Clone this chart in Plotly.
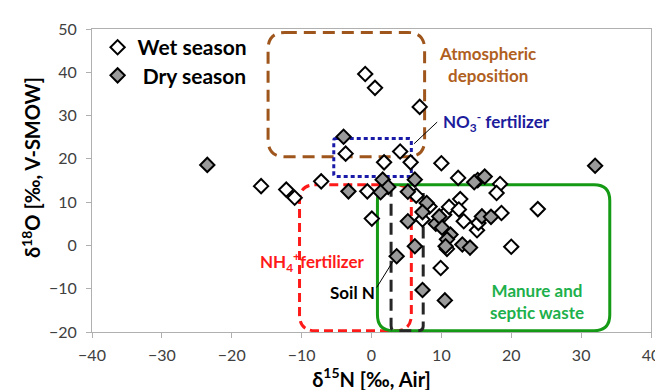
import plotly.graph_objects as go

# ---- data ----
wet_x = [-0.9, 0.5, 6.9, -3.7, 4.1, 5.6, 1.8, 10.0, 12.4, -7.2, -15.8, -12.2, -11.0, -0.6, 6.4,
         0.05, 7.3, 10.4, 11.1, 9.9, 8.3, 12.7, 12.5, 13.2, 15.1, 15.3, 15.2, 18.4, 17.9, 18.6,
         23.8, 20.0, 10.8]
wet_y = [39.6, 36.4, 32.0, 21.2, 21.7, 19.2, 19.2, 19.0, 15.6, 14.8, 13.7, 12.9, 11.0, 12.5, 11.5,
         6.2, 6.0, 7.1, 8.9, -5.2, 9.0, 10.7, 8.3, 5.6, 3.5, 5.2, 15.1, 14.2, 12.1, 7.5,
         8.4, -0.3, -0.8]

dry_x = [-23.5, -4.0, 1.6, 2.4, 6.2, -3.3, 1.3, 5.2, 14.7, 16.2, 32.0, 7.9, 7.3, 5.2, 9.2, 9.7,
         10.1, 11.3, 10.8, 10.6, 13.0, 14.1, 15.8, 17.1, 6.2, 3.6, 7.3, 10.5]
dry_y = [18.6, 25.1, 15.2, 13.5, 15.2, 12.5, 12.3, 12.4, 14.6, 15.9, 18.4, 9.8, 7.7, 5.6, 5.0, 6.7,
         4.1, 2.5, 1.4, -0.2, 0.2, -0.5, 6.7, 6.6, -0.2, -2.5, -10.3, -12.7]

x_ticks = [-40, -30, -20, -10, 0, 10, 20, 30, 40]
y_ticks = [-20, -10, 0, 10, 20, 30, 40, 50]

# source regions (x0, x1, y_bottom, y_top)
atm_box = (-14.8, 7.6, 20.5, 49.2)
no3_box = (-5.4, 5.7, 15.9, 24.7)
nh4_box = (-10.3, 5.7, -19.7, 14.0)
manure_box = (0.85, 34.1, -19.7, 14.0)
soil_left, soil_right, soil_top_l, soil_top_r, soil_bottom = 2.8, 7.4, 14.0, 12.1, -19.7

PXX = 568 / 80.0   # px per x unit
PXY = 305 / 70.0   # px per y unit


def rrect(box, rpx):
    x0, x1, yb, yt = box
    rx, ry = rpx / PXX, rpx / PXY
    return (f"M {x0+rx},{yt} L {x1-rx},{yt} Q {x1},{yt} {x1},{yt-ry} "
            f"L {x1},{yb+ry} Q {x1},{yb} {x1-rx},{yb} L {x0+rx},{yb} "
            f"Q {x0},{yb} {x0},{yb+ry} L {x0},{yt-ry} Q {x0},{yt} {x0+rx},{yt} Z")


def ushape(rpx):
    rx, ry = rpx / PXX, rpx / PXY
    return (f"M {soil_left},{soil_top_l} L {soil_left},{soil_bottom+ry} "
            f"Q {soil_left},{soil_bottom} {soil_left+rx},{soil_bottom} "
            f"L {soil_right-rx},{soil_bottom} Q {soil_right},{soil_bottom} {soil_right},{soil_bottom+ry} "
            f"L {soil_right},{soil_top_r}")


F = "Lato, 'Open Sans', sans-serif"

fig = go.Figure()
fig.add_trace(go.Scatter(x=wet_x, y=wet_y, mode="markers", name="<b>Wet season</b>", legend="legend",
                         showlegend=True,
                         marker=dict(symbol="diamond", size=11, color="white",
                                     line=dict(color="black", width=2))))
fig.add_trace(go.Scatter(x=dry_x, y=dry_y, mode="markers", name="<b> Dry season</b>", legend="legend2",
                         showlegend=True,
                         marker=dict(symbol="diamond", size=11, color="#9a9a9a",
                                     line=dict(color="black", width=2))))

shapes = [
    dict(type="path", path=rrect(atm_box, 17), line=dict(color="#9E561C", width=3, dash="12px,7px")),
    dict(type="path", path=rrect(no3_box, 2), line=dict(color="#1A1AA8", width=3, dash="4px,3px")),
    dict(type="path", path=rrect(nh4_box, 16), line=dict(color="#FF1A1A", width=3, dash="9px,5px")),
    dict(type="path", path=rrect(manure_box, 16), line=dict(color="#149A14", width=3)),
    dict(type="path", path=ushape(5), line=dict(color="#262626", width=3, dash="12px,7px")),
    dict(type="line", x0=9.4, y0=28.5, x1=6.1, y1=23.5, line=dict(color="black", width=1)),
    dict(type="line", x0=0.75, y0=-9.7, x1=3.1, y1=-3.6, line=dict(color="black", width=1)),
]
for s in shapes:
    s.update(xref="x", yref="y", layer="below")
fig.update_layout(shapes=shapes)

AS = 17
ann = [
    dict(x=16.6, y=41.8, text="<b>Atmospheric<br>deposition</b>", font=dict(color="#B0601E", size=AS),
         xanchor="center"),
    dict(x=9.9, y=28.5, text="<b>NO<sub>3</sub><sup>-</sup> fertilizer</b>", font=dict(color="#1C1C9C", size=AS),
         xanchor="left"),
    dict(x=-16.3, y=-3.9, text="<b>NH<sub>4</sub><sup>+</sup>fertilizer</b>", font=dict(color="#FF1A1A", size=AS),
         xanchor="left"),
    dict(x=-2.7, y=-10.8, text="<b>Soil N</b>", font=dict(color="black", size=AS), xanchor="center"),
    dict(x=23.7, y=-12.9, text="<b>Manure and<br>septic waste</b>", font=dict(color="#1DB04B", size=AS),
         xanchor="center"),
]
for a in ann:
    a.update(xref="x", yref="y", showarrow=False, yanchor="middle")
    a["font"]["family"] = F
# y-axis title as rotated annotation (sits slightly above the plot centre in the reference)
ann.append(dict(xref="paper", yref="paper", x=(22 - 84) / 568, y=(324 - 158) / 305,
                text="<b>δ<sup>18</sup>O [‰, V-SMOW]</b>", textangle=-90, showarrow=False,
                xanchor="center", yanchor="middle", font=dict(family=F, size=20, color="black")))
fig.update_layout(annotations=ann)

axis_common = dict(showline=True, linecolor="#b0b0b0", linewidth=1, mirror=True,
                   ticks="outside", ticklen=5, tickcolor="#b0b0b0", showgrid=False, zeroline=False,
                   tickfont=dict(family=F, size=16, color="#404040"))
fig.update_xaxes(range=[-40, 40], tickvals=x_ticks, ticklabelstandoff=4, **axis_common,
                 title=dict(text="<b>δ<sup>15</sup>N [‰, Air]</b>", font=dict(family=F, size=20, color="black"),
                            standoff=8))
fig.update_yaxes(range=[-20, 50], tickvals=y_ticks, ticklabelstandoff=6, **axis_common)

leg = dict(xanchor="left", yanchor="middle", bgcolor="rgba(0,0,0,0)",
           font=dict(family=F, size=21, color="black"), itemwidth=30)
fig.update_layout(
    width=663, height=390, margin=dict(l=84, r=11, t=19, b=66),
    plot_bgcolor="white", paper_bgcolor="white", showlegend=True,
    legend=dict(x=0.010, y=(324 - 37.7) / 305, **leg),
    legend2=dict(x=0.010, y=(324 - 66) / 305, **leg),
)
fig.write_html("out.html")
